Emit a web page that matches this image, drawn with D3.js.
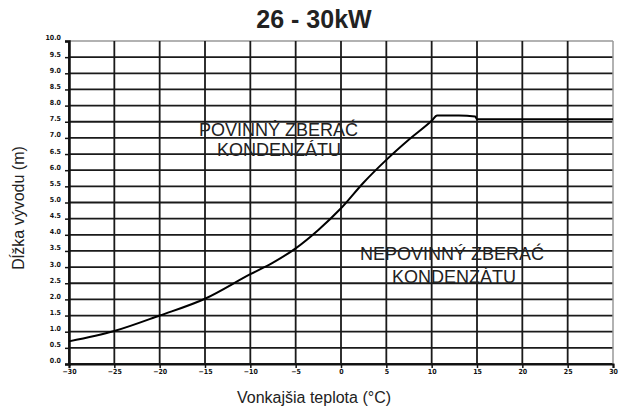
<!DOCTYPE html>
<html>
<head>
<meta charset="utf-8">
<script src="https://cdn.jsdelivr.net/npm/d3@7"></script>
<style>
  body { margin: 0; background: #fff; }
  svg { display: block; font-family: "Liberation Sans", Arial, sans-serif; }
</style>
</head>
<body>
<svg id="chart" width="620" height="410"></svg>
<script>
// Outdoor temperature (°C) and maximum flue length (m)
const temperatures = [-30, -25, -20, -15, -10, -7.5, -5, -2.5, 0, 2.5, 5, 7.5, 10, 10.6, 13, 14.8, 15, 30];
const lengths      = [0.70, 1.02, 1.50, 2.02, 2.78, 3.14, 3.58, 4.15, 4.82, 5.62, 6.32, 6.95, 7.53, 7.69, 7.69, 7.66, 7.58, 7.58];

const xTicks = [-30, -25, -20, -15, -10, -5, 0, 5, 10, 15, 20, 25, 30];
const yTicks = d3.range(0, 10.01, 0.5);

const title = "26 - 30kW";
const xTitle = "Vonkajšia teplota (°C)";
const yTitle = "Dĺžka vývodu (m)";
const regionMandatory = ["POVINNÝ ZBERAĆ", "KONDENZÁTU"];
const regionOptional = ["NEPOVINNÝ ZBERAĆ", "KONDENZÁTU"];

const margin = { top: 41, right: 7, bottom: 46, left: 69 };
const width = 620, height = 410;
const svg = d3.select("#chart");

const x = d3.scaleLinear().domain([-30, 30]).range([margin.left, width - margin.right]);
const y = d3.scaleLinear().domain([0, 10]).range([height - margin.bottom, margin.top]);

// horizontal grid
svg.append("g")
  .selectAll("line")
  .data(yTicks)
  .join("line")
  .attr("x1", x(-30)).attr("x2", x(30))
  .attr("y1", d => y(d)).attr("y2", d => y(d))
  .attr("stroke", d => d === 10 ? "#999" : "#1a1a1a")
  .attr("stroke-width", d => d === 10 ? 1.5 : 1.8);

// vertical grid
svg.append("g")
  .selectAll("line")
  .data(xTicks)
  .join("line")
  .attr("x1", d => x(d)).attr("x2", d => x(d))
  .attr("y1", y(0)).attr("y2", y(10))
  .attr("stroke", d => d === 30 ? "#999" : "#1a1a1a")
  .attr("stroke-width", d => d === 30 ? 1.5 : 1.8);

// y axis
const yAxis = svg.append("g")
  .attr("transform", `translate(${x(-30)},0)`)
  .call(d3.axisLeft(y).tickValues(yTicks).tickFormat(d3.format(".1f")).tickSize(4).tickPadding(4));
yAxis.select(".domain").attr("stroke", "#111").attr("stroke-width", 2.5);
yAxis.selectAll(".tick line").attr("stroke", "#111").attr("stroke-width", 1.5);
yAxis.selectAll(".tick text")
  .attr("dy", "-0.15em")
  .attr("font-size", 7).attr("font-weight", "bold").attr("fill", "#111")
  .attr("font-family", "DejaVu Sans Condensed, sans-serif");

// x axis
const xAxis = svg.append("g")
  .attr("transform", `translate(0,${y(0)})`)
  .call(d3.axisBottom(x).tickValues(xTicks).tickFormat(d3.format("d")).tickSize(4).tickPadding(1));
xAxis.select(".domain").attr("stroke", "#111").attr("stroke-width", 2);
xAxis.selectAll(".tick line").attr("stroke", "#111").attr("stroke-width", 1.5);
xAxis.selectAll(".tick text")
  .attr("font-size", 7).attr("font-weight", "bold").attr("fill", "#111")
  .attr("font-family", "DejaVu Sans Condensed, sans-serif");

// flue length curve
const line = d3.line()
  .x((d, i) => x(temperatures[i]))
  .y(d => y(d))
  .curve(d3.curveMonotoneX);
svg.append("path")
  .datum(lengths)
  .attr("d", line)
  .attr("fill", "none")
  .attr("stroke", "#000")
  .attr("stroke-width", 2);

// region labels: one [x, baseline] per line, left-aligned
function regionLabel(lines, positions) {
  lines.forEach((s, i) => {
    svg.append("text")
      .attr("x", positions[i][0]).attr("y", positions[i][1])
      .attr("font-size", 18)
      .attr("fill", "#222")
      .text(s);
  });
}
regionLabel(regionMandatory, [[199, 136], [217, 156]]);
regionLabel(regionOptional, [[360, 260], [392, 283]]);

// titles
svg.append("text")
  .attr("x", 314).attr("y", 28)
  .attr("text-anchor", "middle")
  .attr("font-size", 25).attr("font-weight", "bold").attr("fill", "#222")
  .text(title);

svg.append("text")
  .attr("x", 314).attr("y", 403)
  .attr("text-anchor", "middle")
  .attr("font-size", 16).attr("fill", "#222")
  .text(xTitle);

svg.append("text")
  .attr("transform", "translate(24,208) rotate(-90)")
  .attr("text-anchor", "middle")
  .attr("font-size", 16).attr("fill", "#222")
  .text(yTitle);
</script>
</body>
</html>
